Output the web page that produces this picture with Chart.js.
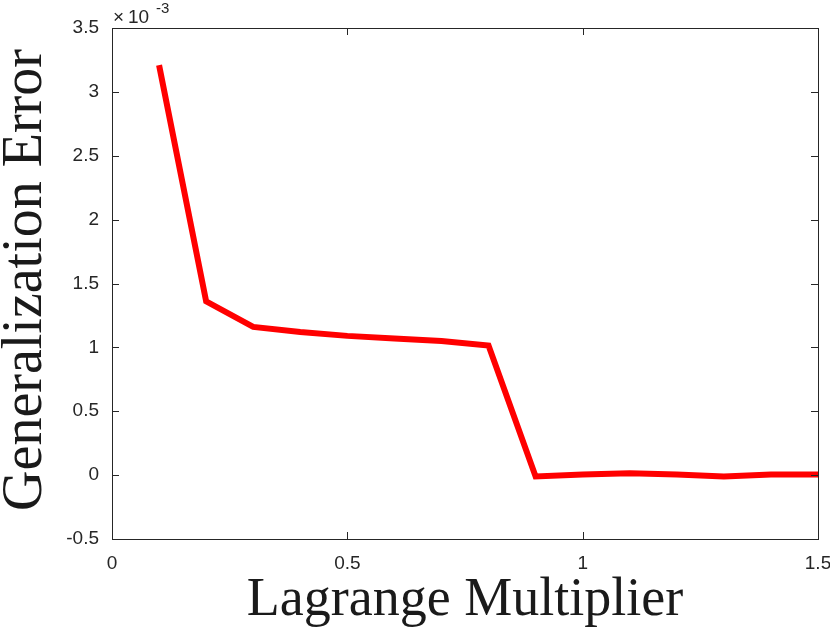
<!DOCTYPE html>
<html><head><meta charset="utf-8">
<script src="https://cdn.jsdelivr.net/npm/chart.js@4/dist/chart.umd.min.js"></script>
<style>html,body{margin:0;padding:0;background:#fff}#wrap{width:830px;height:632px}</style>
</head><body><div id="wrap"><canvas id="c" width="830" height="632"></canvas></div>
<script>
const lambdas = [0.1,0.2,0.3,0.4,0.5,0.6,0.7,0.8,0.9,1.0,1.1,1.2,1.3,1.4,1.5];
const genError = [3.21,1.36,1.16,1.12,1.09,1.07,1.05,1.015,-0.01,0.005,0.015,0.005,-0.01,0.005,0.005];
const xTicks = [0,0.5,1,1.5];
const yTicks = [-0.5,0,0.5,1,1.5,2,2.5,3,3.5];
const xTitle = 'Lagrange Multiplier';
const yTitle = 'Generalization Error';

const boxPlugin = {
  id:'box',
  afterDraw(chart){
    const {ctx, chartArea:a, scales:{x,y}} = chart;
    ctx.save();
    ctx.strokeStyle = '#262626'; ctx.lineWidth = 1;
    ctx.strokeRect(a.left+0.5, a.top+0.5, a.right-a.left, a.bottom-a.top);
    const tl = 7;
    ctx.beginPath();
    xTicks.forEach(v=>{const px=Math.round(x.getPixelForValue(v))+0.5;
      ctx.moveTo(px,a.bottom);ctx.lineTo(px,a.bottom-tl);
      ctx.moveTo(px,a.top);ctx.lineTo(px,a.top+tl);});
    yTicks.forEach(v=>{const py=Math.round(y.getPixelForValue(v))+0.5;
      ctx.moveTo(a.left,py);ctx.lineTo(a.left+tl,py);
      ctx.moveTo(a.right,py);ctx.lineTo(a.right-tl,py);});
    ctx.stroke();
    ctx.fillStyle = '#262626';
    ctx.textBaseline = 'alphabetic'; ctx.textAlign='left';
    ctx.font = '19px "Liberation Sans", Arial, sans-serif';
    ctx.fillText('\u00d7', 113, 23);
    ctx.fillText('10', 128, 23);
    ctx.font = '15px "Liberation Sans", Arial, sans-serif';
    ctx.fillText('-3', 156, 13);
    ctx.fillStyle = '#1a1a1a';
    ctx.font = '54px "Liberation Serif", "DejaVu Serif", serif';
    ctx.textAlign='center';
    ctx.fillText(xTitle, 465, 615);
    ctx.font = '56px "Liberation Serif", "DejaVu Serif", serif';
    ctx.translate(41, 280);
    ctx.rotate(-Math.PI/2);
    ctx.fillText(yTitle, 0, 0);
    ctx.restore();
  }
};

new Chart(document.getElementById('c'), {
  type:'line',
  data:{datasets:[{data: lambdas.map((v,i)=>({x:v,y:genError[i]})), borderColor:'#ff0000', borderWidth:6, pointRadius:0, fill:false, tension:0, borderJoinStyle:'miter'}]},
  options:{
    responsive:false, animation:false, devicePixelRatio:1,
    layout:{padding:{left:0,top:28,right:12,bottom:0}},
    plugins:{legend:{display:false},tooltip:{enabled:false}},
    scales:{
      x:{type:'linear',min:0,max:1.5,
        afterBuildTicks(s){s.ticks = xTicks.map(v=>({value:v}));},
        afterFit(s){s.height=93; s.paddingLeft=0; s.paddingRight=0;},
        grid:{display:false,drawTicks:false},border:{display:false},
        ticks:{color:'#262626',padding:13,font:{family:'"Liberation Sans", Arial, sans-serif',size:19},maxRotation:0,
          callback:v=>String(v)}},
      y:{type:'linear',min:-0.5,max:3.5,
        afterBuildTicks(s){s.ticks = yTicks.map(v=>({value:v}));},
        afterFit(s){s.width=112; s.paddingTop=0; s.paddingBottom=0;},
        grid:{display:false,drawTicks:false},border:{display:false},
        ticks:{color:'#262626',padding:13,font:{family:'"Liberation Sans", Arial, sans-serif',size:19},
          callback:v=>String(v)}}
    }
  },
  plugins:[boxPlugin]
});
</script></body></html>
